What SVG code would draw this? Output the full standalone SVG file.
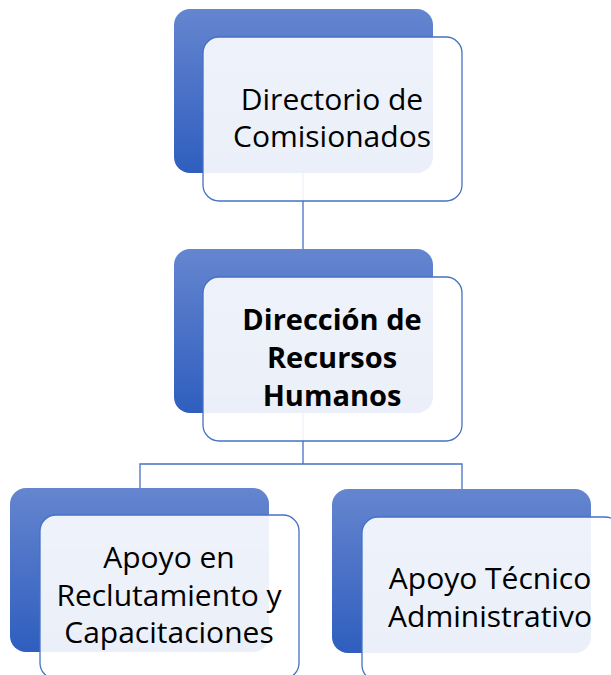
<svg xmlns="http://www.w3.org/2000/svg" width="611" height="675" viewBox="0 0 611 675">
<style>
.dark{fill:url(#g);}
.light{fill:#ffffff;fill-opacity:0.9;stroke:#4472c4;stroke-width:1.3;}
.t{font-family:"Open Sans","Noto Sans","Liberation Sans",sans-serif;font-size:30px;fill:#000;text-anchor:middle;}
.b{font-weight:bold;font-size:29px;}
.c{fill:none;stroke:#4472c4;stroke-width:1.3;}
</style>
<defs>
<linearGradient id="g" x1="0" y1="0" x2="0" y2="1">
<stop offset="0" stop-color="#6585cf"/>
<stop offset="1" stop-color="#2f5ebf"/>
</linearGradient>
</defs>
<rect width="611" height="675" fill="#ffffff"/>
<g id="connectors">
<path class="c" d="M303,173 V249"/>
<path class="c" d="M303,413 V464 M140,488 V464 H462 V489"/>
</g>
<g id="n1">
<rect class="dark" x="174" y="9" width="259" height="164" rx="16"/>
<rect class="light" x="203" y="37" width="259" height="164" rx="16"/>
<text class="t"><tspan x="332" y="110">Directorio de</tspan><tspan x="332" y="147">Comisionados</tspan></text>
</g>
<g id="n2">
<rect class="dark" x="174" y="249" width="259" height="164" rx="16"/>
<rect class="light" x="203" y="277" width="259" height="164" rx="16"/>
<text class="t b"><tspan x="332" y="330">Dirección de</tspan><tspan x="332" y="368">Recursos</tspan><tspan x="332" y="406">Humanos</tspan></text>
</g>
<g id="n3">
<rect class="dark" x="10" y="488" width="259" height="164" rx="16"/>
<rect class="light" x="40" y="515" width="259" height="164" rx="16"/>
<text class="t"><tspan x="169" y="568">Apoyo en</tspan><tspan x="169" y="606">Reclutamiento y</tspan><tspan x="169" y="643">Capacitaciones</tspan></text>
</g>
<g id="n4">
<rect class="dark" x="332" y="489" width="259" height="164" rx="16"/>
<rect class="light" x="362" y="517" width="259" height="164" rx="16"/>
<text class="t"><tspan x="490" y="589">Apoyo Técnico</tspan><tspan x="490" y="627">Administrativo</tspan></text>
</g>
</svg>
